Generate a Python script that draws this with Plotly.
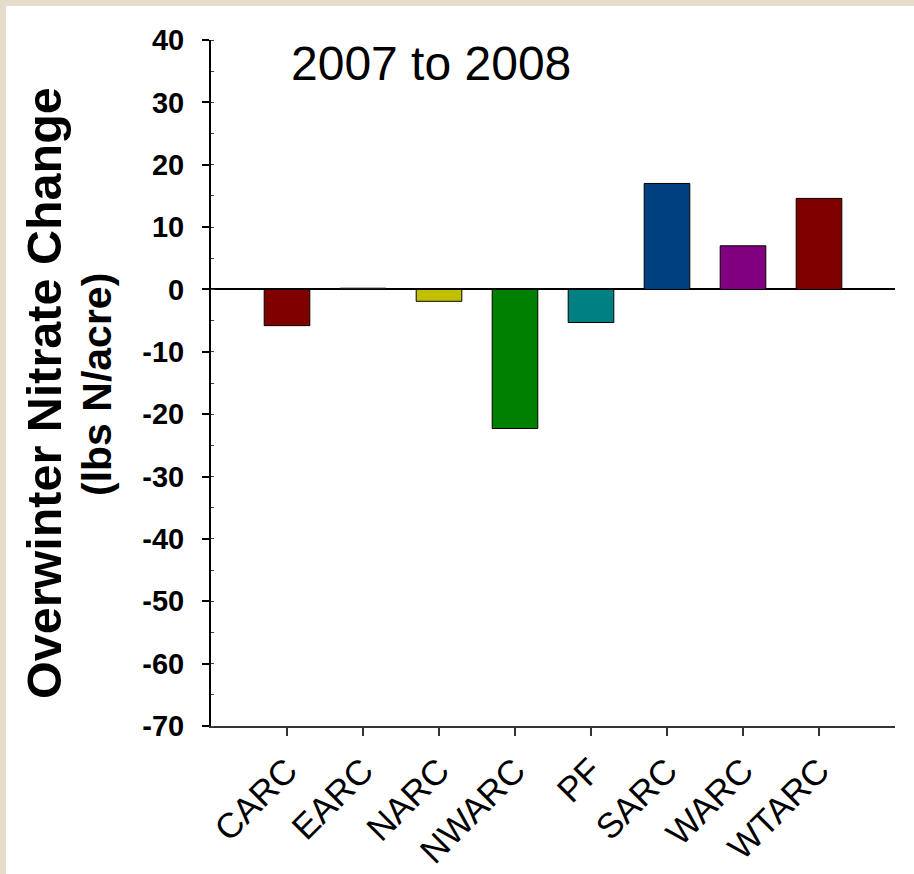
import plotly.graph_objects as go

categories = ["CARC", "EARC", "NARC", "NWARC", "PF", "SARC", "WARC", "WTARC"]
values = [-5.8, 0.2, -1.9, -22.3, -5.3, 17.0, 7.0, 14.6]
bar_colors = ["#800000", "#808080", "#c0c000", "#008000", "#008080", "#004080", "#800080", "#800000"]
y_ticks = [40, 30, 20, 10, 0, -10, -20, -30, -40, -50, -60, -70]
y_tick_labels = ["<b>%d</b>" % v for v in y_ticks]

W, H = 914, 874
L, R, T, B = 211, 19, 40, 148
pw, ph = W - L - R, H - T - B

def px_x(p):
    return (p - L) / pw

def px_y(p):
    return (H - B - p) / ph

fig = go.Figure(go.Bar(
    x=categories, y=values, width=0.6,
    marker=dict(color=bar_colors, line=dict(color="black", width=1)),
))

fig.update_layout(
    width=W, height=H,
    margin=dict(l=L, r=R, t=T, b=B, pad=0, autoexpand=False),
    paper_bgcolor="#e5dccb",
    plot_bgcolor="white",
    showlegend=False,
    font=dict(family="Liberation Sans, Arial, sans-serif", color="black"),
    shapes=[dict(type="rect", xref="paper", yref="paper",
                 x0=px_x(6), x1=px_x(W + 5), y0=px_y(H + 5), y1=px_y(6),
                 fillcolor="white", line=dict(width=0), layer="below")],
    annotations=[
        dict(text="2007 to 2008", xref="paper", yref="paper", x=px_x(431), y=px_y(64),
             xanchor="center", yanchor="middle", showarrow=False,
             font=dict(size=48, family="Liberation Sans, Arial", color="black")),
        dict(text="<b>Overwinter Nitrate Change</b>", xref="paper", yref="paper",
             x=px_x(44), y=px_y(393), textangle=-90, xanchor="center", yanchor="middle",
             showarrow=False, font=dict(size=48.5, family="Liberation Sans, Arial", color="black")),
        dict(text="<b>(lbs N/acre)</b>", xref="paper", yref="paper",
             x=px_x(97), y=px_y(385), textangle=-90, xanchor="center", yanchor="middle",
             showarrow=False, font=dict(size=41, family="Liberation Sans, Arial", color="black")),
    ],
)

fig.update_xaxes(
    type="category", range=[-1, 8], automargin=False,
    showline=True, linecolor="#333333", linewidth=2,
    ticks="outside", ticklen=8, tickwidth=2, tickcolor="#333333",
    tickangle=-45, tickfont=dict(size=35, family="Liberation Sans, Arial", color="black"),
    showgrid=False, zeroline=False,
)
fig.update_yaxes(
    range=[-70, 40], tickvals=y_ticks, ticktext=y_tick_labels, automargin=False,
    showline=True, linecolor="black", linewidth=2,
    ticks="outside", ticklen=7, tickwidth=2, tickcolor="black",
    tickfont=dict(size=29, family="Liberation Sans, Arial", color="black"),
    ticklabelstandoff=12,
    showgrid=False, zeroline=True, zerolinecolor="black", zerolinewidth=2,
    minor=dict(dtick=5, ticks="inside", ticklen=3, tickwidth=1, tickcolor="#444444"),
)

fig.write_html("out.html")
